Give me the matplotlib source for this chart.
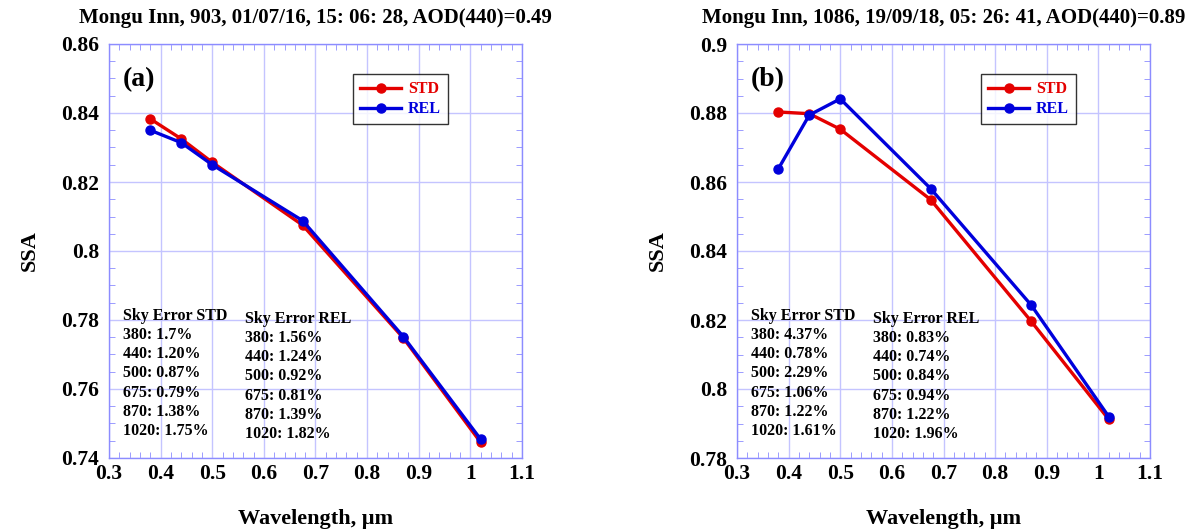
import matplotlib
matplotlib.use("Agg")
import matplotlib.pyplot as plt
from matplotlib.ticker import MultipleLocator

plt.rcParams['font.family'] = ['Liberation Serif', 'DejaVu Serif']
plt.rcParams['font.weight'] = 'bold'

wavelength = [0.38, 0.44, 0.50, 0.675, 0.87, 1.02]

ssa_std_a = [0.8383, 0.8325, 0.8257, 0.8075, 0.7748, 0.7445]
ssa_rel_a = [0.8350, 0.8314, 0.8250, 0.8088, 0.7752, 0.7454]
ssa_std_b = [0.8803, 0.8798, 0.8753, 0.8549, 0.8196, 0.7912]
ssa_rel_b = [0.8638, 0.8794, 0.8841, 0.8581, 0.8243, 0.7920]

titles = ["Mongu Inn, 903, 01/07/16, 15: 06: 28, AOD(440)=0.49",
          "Mongu Inn, 1086, 19/09/18, 05: 26: 41, AOD(440)=0.89"]
panel_labels = ["(a)", "(b)"]

sky_std_a = ["380: 1.7%", "440: 1.20%", "500: 0.87%", "675: 0.79%", "870: 1.38%", "1020: 1.75%"]
sky_rel_a = ["380: 1.56%", "440: 1.24%", "500: 0.92%", "675: 0.81%", "870: 1.39%", "1020: 1.82%"]
sky_std_b = ["380: 4.37%", "440: 0.78%", "500: 2.29%", "675: 1.06%", "870: 1.22%", "1020: 1.61%"]
sky_rel_b = ["380: 0.83%", "440: 0.74%", "500: 0.84%", "675: 0.94%", "870: 1.22%", "1020: 1.96%"]

ylims = [(0.74, 0.86), (0.78, 0.90)]
ytick_labels = [["0.74", "0.76", "0.78", "0.8", "0.82", "0.84", "0.86"],
                ["0.78", "0.8", "0.82", "0.84", "0.86", "0.88", "0.9"]]
xticks = [0.3, 0.4, 0.5, 0.6, 0.7, 0.8, 0.9, 1.0, 1.1]
xtick_labels = ["0.3", "0.4", "0.5", "0.6", "0.7", "0.8", "0.9", "1", "1.1"]

RED = '#e40000'
BLUE = '#0000dc'
GRID = '#c4c4ff'
SPINE = '#8c8cff'

fig = plt.figure(figsize=(11.89, 5.31), dpi=100)
axes_pos = [[109 / 1189, 73 / 531, 413 / 1189, 414 / 531],
            [737 / 1189, 73 / 531, 413 / 1189, 414 / 531]]

data = [(ssa_std_a, ssa_rel_a, sky_std_a, sky_rel_a),
        (ssa_std_b, ssa_rel_b, sky_std_b, sky_rel_b)]

for i in range(2):
    ax = fig.add_axes(axes_pos[i])
    std, rel, sstd, srel = data[i]
    ax.plot(wavelength, std, '-o', color=RED, lw=2.4, ms=6.5, label='STD', zorder=3)
    ax.plot(wavelength, rel, '-o', color=BLUE, lw=2.4, ms=6.5, label='REL', zorder=4)
    ax.set_xlim(0.3, 1.1)
    ax.set_ylim(*ylims[i])
    ax.set_xticks(xticks)
    ax.set_xticklabels(xtick_labels)
    yt = [ylims[i][0] + 0.02 * k for k in range(7)]
    ax.set_yticks(yt)
    ax.set_yticklabels(ytick_labels[i])
    ax.xaxis.set_minor_locator(MultipleLocator(0.02))
    ax.yaxis.set_minor_locator(MultipleLocator(0.005))
    ax.grid(True, which='major', color=GRID, lw=1.0, zorder=0)
    ax.set_axisbelow(True)
    ax.tick_params(which='both', direction='in', top=True, right=True, color=SPINE,
                   labelsize=15.5)
    ax.tick_params(axis='y', pad=7)
    ax.tick_params(axis='x', pad=4)
    ax.tick_params(which='major', length=0)
    ax.tick_params(which='minor', length=4)
    for lab in ax.get_xticklabels() + ax.get_yticklabels():
        lab.set_fontweight('bold')
    for sp in ax.spines.values():
        sp.set_color(SPINE)
        sp.set_linewidth(1.0)
    ax.set_title(titles[i], fontsize=15, fontweight='bold', pad=15)
    ax.set_xlabel('Wavelength, μm', fontsize=16, fontweight='bold')
    ax.set_ylabel('SSA', fontsize=16, fontweight='bold')
    ax.xaxis.set_label_coords(0.5, -0.148)
    ax.xaxis.label.set_va('center')
    ax.yaxis.set_label_coords(-0.191, 0.5)
    ax.yaxis.label.set_va('center')
    ax.text(0.034, 0.913, panel_labels[i], transform=ax.transAxes, fontsize=20,
            fontweight='bold', va='center', ha='left')
    ax.text(0.034, 0.362, "Sky Error STD\n" + "\n".join(sstd), transform=ax.transAxes,
            fontsize=11.5, fontweight='bold', va='top', ha='left', linespacing=1.26)
    ax.text(0.33, 0.355, "Sky Error REL\n" + "\n".join(srel), transform=ax.transAxes,
            fontsize=11.5, fontweight='bold', va='top', ha='left', linespacing=1.26)
    leg = ax.legend(loc='upper right', bbox_to_anchor=(0.821, 0.9275), fontsize=11.5,
                    frameon=True, fancybox=False, edgecolor='black', handlelength=2.6,
                    borderpad=0.45, labelspacing=0.25, handletextpad=0.4, borderaxespad=0)
    leg.get_frame().set_linewidth(1.0)
    for t, c in zip(leg.get_texts(), [RED, BLUE]):
        t.set_color(c)
        t.set_fontweight('bold')

fig.savefig('out.png', dpi=100)
